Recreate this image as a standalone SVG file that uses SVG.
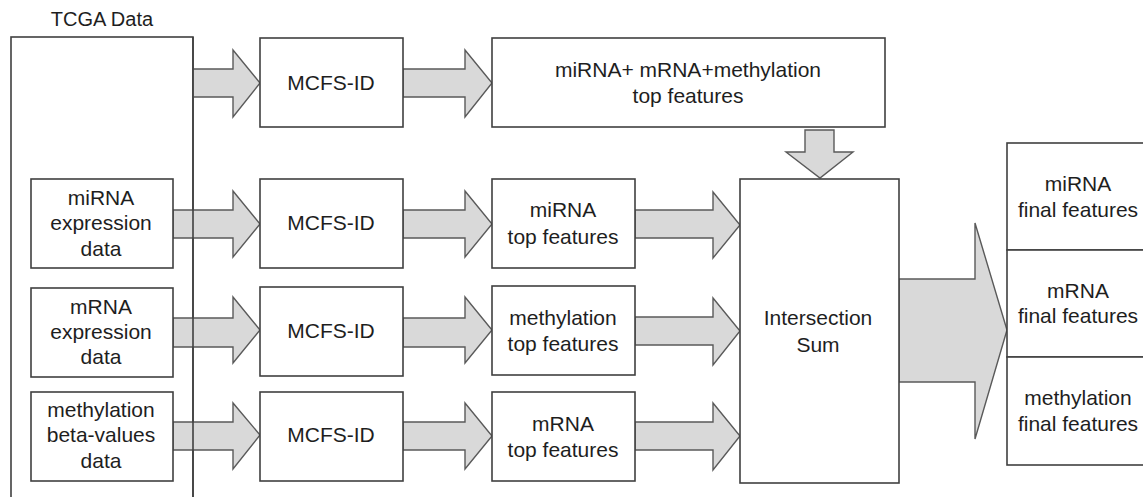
<svg xmlns="http://www.w3.org/2000/svg" width="1143" height="497" viewBox="0 0 1143 497">
<style>
.box{fill:#fff;stroke:#404040;stroke-width:1.6}
.line{fill:none;stroke:#404040;stroke-width:1.6}
.arr{fill:#d9d9d9;stroke:#5a5a5a;stroke-width:1.4;stroke-linejoin:miter}
text{font-family:"Liberation Sans",Arial,sans-serif;font-size:21px;fill:#1e1e1e;text-anchor:middle}
</style>
<rect width="1143" height="497" fill="#fff"/>
<g id="tcga">
<rect class="box" x="11" y="37" width="182" height="480"/>
<text x="102" y="26" style="font-size:20px">TCGA Data</text>
</g>
<g id="connectors">
<polygon class="arr" points="193,69 233,69 233,50 260,83 233,117 233,97 193,97"/>
<polygon class="arr" points="403,69 465,69 465,50 492,83 465,117 465,97 403,97"/>
<polygon class="arr" points="805,130 834,130 834,152 853,152 820,178 786,152 805,152"/>
<polygon class="arr" points="173,210 233,210 233,191 260,224 233,257 233,238 173,238"/>
<polygon class="arr" points="403,210 465,210 465,191 492,224 465,257 465,238 403,238"/>
<polygon class="arr" points="635,210 713,210 713,192 740,225 713,258 713,238 635,238"/>
<polygon class="arr" points="173,318 233,318 233,297 260,330 233,363 233,347 173,347"/>
<polygon class="arr" points="403,318 465,318 465,297 492,330 465,363 465,347 403,347"/>
<polygon class="arr" points="635,317 713,317 713,298 740,331 713,365 713,345 635,345"/>
<polygon class="arr" points="173,422 233,422 233,403 260,435 233,469 233,450 173,450"/>
<polygon class="arr" points="403,422 465,422 465,403 492,436 465,469 465,450 403,450"/>
<polygon class="arr" points="635,422 713,422 713,403 740,436 713,470 713,450 635,450"/>
<polygon class="arr" points="899,279 975,279 975,223 1007,330 975,439 975,382 899,382"/>
<line class="line" x1="193" y1="37" x2="193" y2="497"/>
</g>
<g id="mcfs1"><rect class="box" x="260" y="38" width="143" height="89"/><text x="331" y="90">MCFS-ID</text></g>
<g id="mcfs2"><rect class="box" x="260" y="179" width="143" height="89"/><text x="331" y="230">MCFS-ID</text></g>
<g id="mcfs3"><rect class="box" x="260" y="287" width="143" height="89"/><text x="331" y="338">MCFS-ID</text></g>
<g id="mcfs4"><rect class="box" x="260" y="392" width="143" height="89"/><text x="331" y="442">MCFS-ID</text></g>
<g id="mirna-data"><rect class="box" x="31" y="179" width="142" height="89"/><text x="101" y="205">miRNA</text><text x="101" y="230">expression</text><text x="101" y="256">data</text></g>
<g id="mrna-data"><rect class="box" x="31" y="288" width="142" height="89"/><text x="101" y="314">mRNA</text><text x="101" y="339">expression</text><text x="101" y="364">data</text></g>
<g id="meth-data"><rect class="box" x="31" y="392" width="142" height="89"/><text x="101" y="417">methylation</text><text x="101" y="442">beta-values</text><text x="101" y="468">data</text></g>
<g id="all-top"><rect class="box" x="492" y="38" width="393" height="89"/><text x="688" y="77">miRNA+ mRNA+methylation</text><text x="688" y="103">top features</text></g>
<g id="mirna-top"><rect class="box" x="492" y="179" width="143" height="89"/><text x="563" y="217">miRNA</text><text x="563" y="244">top features</text></g>
<g id="meth-top"><rect class="box" x="492" y="286" width="143" height="89"/><text x="563" y="325">methylation</text><text x="563" y="351">top features</text></g>
<g id="mrna-top"><rect class="box" x="492" y="392" width="143" height="89"/><text x="563" y="431">mRNA</text><text x="563" y="457">top features</text></g>
<g id="intersection"><rect class="box" x="740" y="179" width="159" height="304"/><text x="818" y="325">Intersection</text><text x="818" y="352">Sum</text></g>
<g id="mirna-final"><rect class="box" x="1007" y="143" width="150" height="107"/><text x="1078" y="191">miRNA</text><text x="1078" y="217">final features</text></g>
<g id="mrna-final"><rect class="box" x="1007" y="250" width="150" height="107"/><text x="1078" y="298">mRNA</text><text x="1078" y="323">final features</text></g>
<g id="meth-final"><rect class="box" x="1007" y="357" width="150" height="108"/><text x="1078" y="405">methylation</text><text x="1078" y="431">final features</text></g>
</svg>
